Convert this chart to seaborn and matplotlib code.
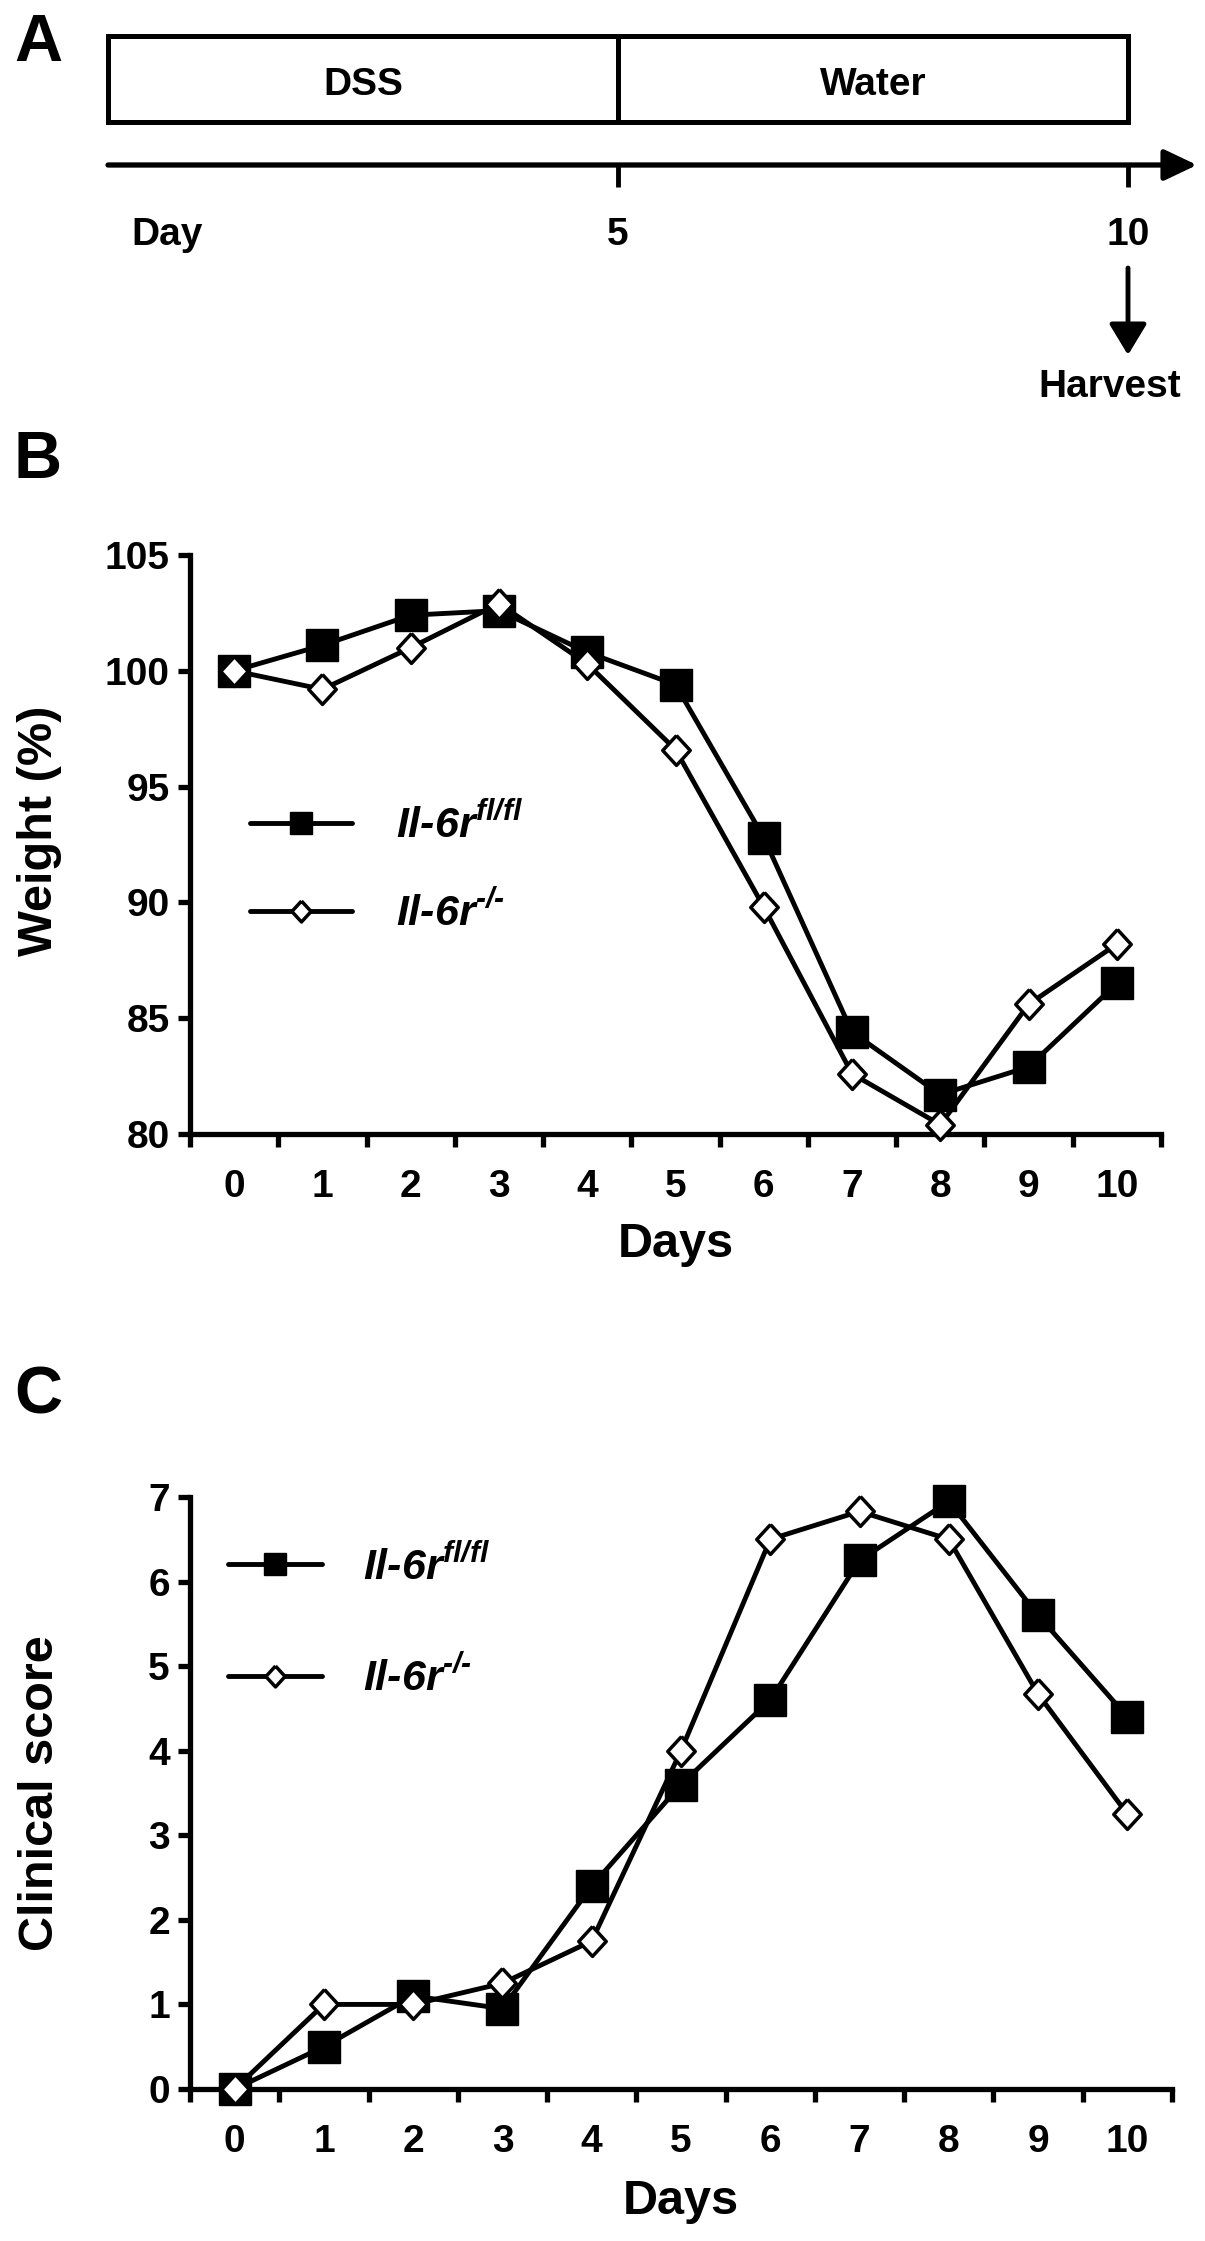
import matplotlib
matplotlib.use("Agg")
import matplotlib.pyplot as plt
from matplotlib.patches import ArrowStyle
import seaborn as sns

# ---------------- data ----------------
phases = ["DSS", "Water"]
phase_start = [0, 5]
phase_length = [5, 5]
timeline_ticks = [5, 10]
timeline_labels = ["Day", "5", "10"]
harvest_day = 10

days = list(range(11))
weight_fl = [100.0, 101.1, 102.4, 102.6, 100.8, 99.4, 92.8, 84.4, 81.7, 82.9, 86.5]
weight_ko = [100.0, 99.2, 101.0, 102.9, 100.3, 96.6, 89.8, 82.6, 80.4, 85.6, 88.2]
score_fl = [0.0, 0.5, 1.1, 0.95, 2.4, 3.6, 4.6, 6.25, 6.95, 5.6, 4.4]
score_ko = [0.0, 1.0, 1.0, 1.25, 1.75, 4.0, 6.5, 6.83, 6.5, 4.67, 3.25]
weight_ticks = [80, 85, 90, 95, 100, 105]
score_ticks = [0, 1, 2, 3, 4, 5, 6, 7]
label_fl = "Il-6r$^{fl/fl}$"
label_ko = "Il-6r$^{\u2010/\u2010}$"

# ---------------- style ----------------
sns.set_theme(style="white")
plt.rcParams['font.family'] = ['Liberation Sans', 'DejaVu Sans']
plt.rcParams['font.weight'] = 'bold'
plt.rcParams['axes.labelweight'] = 'bold'
for k in ['text.color', 'axes.labelcolor', 'xtick.color', 'ytick.color',
          'axes.edgecolor']:
    plt.rcParams[k] = 'black'
plt.rcParams['mathtext.fontset'] = 'custom'
for k in ['mathtext.it', 'mathtext.rm', 'mathtext.bf', 'mathtext.sf']:
    plt.rcParams[k] = 'Liberation Sans:italic:bold'
plt.rcParams['mathtext.default'] = 'it'
plt.rcParams['axes.linewidth'] = 3.8

W, H = 1205, 2241
fig = plt.figure(figsize=(W / 100, H / 100), dpi=100)


def rect(l, t, r, b):
    return [l / W, 1 - b / H, (r - l) / W, (b - t) / H]


TICK = 28
LEG = 31
LAB = 35
LW = 3.5
diamond = [(0, 1), (0.92, 0), (0, -1), (-0.92, 0), (0, 1)]

# ---------------- panel A ----------------
axA = fig.add_axes([0, 1 - 450 / H, 1, 450 / H])
axA.set_xlim(-108 / 102, (W - 108) / 102)
axA.set_ylim(450, 0)
axA.axis('off')
axA.bar(phase_start, 86.5, width=phase_length, bottom=35.5, align='edge',
        fill=False, edgecolor='black', linewidth=3.6)
for p, s, l in zip(phases, phase_start, phase_length):
    axA.text(s + l / 2, 95, p, ha='center', va='baseline', fontsize=TICK,
             fontweight='bold')
axA.annotate('', xy=((1197 - 108) / 102, 165), xytext=(0, 165),
             arrowprops=dict(arrowstyle=ArrowStyle('-|>', head_length=20, head_width=9.5),
                             lw=3.8, color='black', shrinkA=0, shrinkB=0,
                             mutation_scale=1))
axA.vlines(timeline_ticks, 165, 187, color='black', lw=3.5)
axA.text(0.225, 245, timeline_labels[0], ha='left', va='baseline',
         fontsize=TICK, fontweight='bold')
for t, lab in zip(timeline_ticks, timeline_labels[1:]):
    axA.text(t, 245, lab, ha='center', va='baseline', fontsize=TICK,
             fontweight='bold')
axA.annotate('', xy=(harvest_day, 355), xytext=(harvest_day, 268),
             arrowprops=dict(arrowstyle=ArrowStyle('-|>', head_length=19, head_width=11.5),
                             lw=3.5, color='black', shrinkA=0, shrinkB=0,
                             mutation_scale=1))
axA.text(harvest_day - 0.18, 397, "Harvest", ha='center', va='baseline',
         fontsize=TICK, fontweight='bold')


# ---------------- line panels ----------------
def panel(ax, y_fl, y_ko, yticks, ylabel, ylab_xy, leg_x, leg_rows, hl, pad):
    sns.lineplot(x=days, y=y_fl, ax=ax, color='black', lw=LW, marker='s',
                 markersize=23.5, markerfacecolor='black', markeredgecolor='black',
                 markeredgewidth=1, clip_on=False, zorder=4, errorbar=None)
    sns.lineplot(x=days, y=y_ko, ax=ax, color='black', lw=LW, marker=diamond,
                 markersize=21.5, markerfacecolor='white', markeredgecolor='black',
                 markeredgewidth=2.5, clip_on=False, zorder=5, errorbar=None)
    ax.set_xlim(-0.5, 10.5)
    ax.set_ylim(yticks[0], yticks[-1])
    ax.set_yticks(yticks)
    ax.set_xticks(days)
    ax.set_xticks([d - 0.5 for d in days] + [days[-1] + 0.5], minor=True)
    for s in ['top', 'right']:
        ax.spines[s].set_visible(False)
    ax.tick_params(axis='y', which='major', length=9, width=3.8, pad=5.5,
                   labelsize=TICK, direction='out', left=True, colors='black')
    ax.tick_params(axis='x', which='major', length=0, pad=25, labelsize=TICK,
                   colors='black')
    ax.tick_params(axis='x', which='minor', length=9.4, width=3.8,
                   direction='out', bottom=True, colors='black')
    for lab in ax.get_xticklabels() + ax.get_yticklabels():
        lab.set_fontweight('bold')
    ax.set_xlabel("Days", fontsize=LAB, fontweight='bold')
    ax.set_ylabel(ylabel, fontsize=LAB, fontweight='bold')
    ax.xaxis.set_label_coords(0.5, -0.152)
    ax.yaxis.set_label_coords(*ylab_xy)
    lines = ax.get_lines()
    prop = dict(family='Liberation Sans', weight='bold', style='italic', size=LEG)
    leg1 = ax.legend([lines[0]], [label_fl], loc='center left',
                     bbox_to_anchor=(leg_x, leg_rows[0]), bbox_transform=ax.transData,
                     frameon=False, borderpad=0, borderaxespad=0, handlelength=hl,
                     handletextpad=pad, markerscale=0.68, prop=prop)
    ax.add_artist(leg1)
    ax.legend([lines[1]], [label_ko], loc='center left',
              bbox_to_anchor=(leg_x, leg_rows[1]), bbox_transform=ax.transData,
              frameon=False, borderpad=0, borderaxespad=0, handlelength=hl,
              handletextpad=pad, markerscale=0.7, prop=prop)


axB = fig.add_axes(rect(190, 555, 1161, 1134))
panel(axB, weight_fl, weight_ko, weight_ticks, "Weight (%)", (-0.132, 0.524),
      0.176, [93.3, 89.5], 2.37, 1.02)

axC = fig.add_axes(rect(190, 1497, 1172, 2089))
panel(axC, score_fl, score_ko, score_ticks, "Clinical score", (-0.129, 0.5),
      -0.078, [6.17, 4.85], 2.19, 0.95)

# ---------------- panel letters ----------------
for letter, top in zip(["A", "B", "C"], [13, 430, 1365]):
    fig.text(14 / W, 1 - top / H, letter, ha='left', va='top', fontsize=48,
             fontweight='bold')

fig.savefig("out.png", dpi=100, facecolor='white')
